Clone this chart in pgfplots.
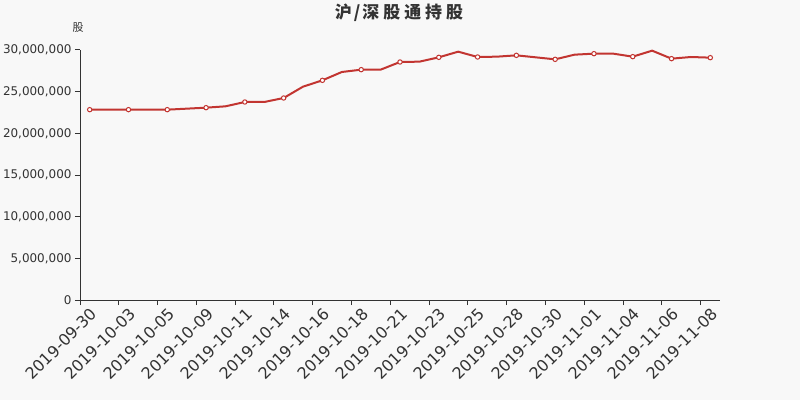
\documentclass[border=0pt]{standalone}
\usepackage{pgfplots}
\pgfplotsset{compat=1.18}
\usepackage{fontspec}
\setmainfont{DejaVu Sans}
\newfontfamily\cjk{Noto Sans CJK SC}
\definecolor{bg}{HTML}{F8F8F8}
\definecolor{txt}{HTML}{333333}
\definecolor{ln}{HTML}{C23531}
\begin{document}
\begin{tikzpicture}[x=1bp,y=1bp]
\path[use as bounding box, fill=bg] (0,0) rectangle (800,400);
\node[text=txt, font=\cjk\bfseries\fontsize{17}{20}\selectfont] at (399,387) {沪\hspace{2bp}/\hspace{2bp}深\hspace{4bp}股\hspace{4bp}通\hspace{4bp}持\hspace{4bp}股};
\node[text=txt, font=\cjk\fontsize{11}{13}\selectfont] at (78,372) {股};
\begin{axis}[
  at={(80bp,100bp)}, anchor=south west, scale only axis,
  width=640bp, height=250bp,
  xmin=-0.5, xmax=32.5, ymin=0, ymax=30000000,
  axis lines*=left, clip=false,
  axis line style={txt, line width=1bp},
  tick align=outside,
  major tick length=5bp,
  tick style={txt, line width=1bp},
  xtick={-0.5,1.5,...,31.5},
  xticklabels={2019-09-30,2019-10-03,2019-10-05,2019-10-09,2019-10-11,2019-10-14,2019-10-16,2019-10-18,2019-10-21,2019-10-23,2019-10-25,2019-10-28,2019-10-30,2019-11-01,2019-11-04,2019-11-06,2019-11-08},
  xticklabel style={xshift=9.7bp, rotate=45, anchor=north east, font=\fontsize{16}{18}\selectfont, text=txt, inner sep=1bp},
  ytick={0,5000000,10000000,15000000,20000000,25000000,30000000},
  yticklabel style={font=\fontsize{12}{14}\selectfont, text=txt},
  scaled y ticks=false,
  /pgf/number format/.cd, fixed, 1000 sep={,}, assume math mode=true,
]
\addplot[color=ln, line width=2bp, mark=*, mark repeat=2, mark size=2.2bp,
  mark options={fill=white, draw=ln, line width=1bp}] coordinates {
(0,22840000) (1,22840000) (2,22840000) (3,22840000) (4,22840000)
(5,22960000) (6,23080000) (7,23240000) (8,23760000) (9,23760000)
(10,24240000) (11,25600000) (12,26360000) (13,27360000) (14,27640000)
(15,27640000) (16,28560000) (17,28600000) (18,29120000) (19,29800000)
(20,29160000) (21,29200000) (22,29360000) (23,29120000) (24,28880000)
(25,29440000) (26,29560000) (27,29560000) (28,29200000) (29,29920000)
(30,28960000) (31,29160000) (32,29080000)
};
\end{axis}
\end{tikzpicture}
\end{document}
